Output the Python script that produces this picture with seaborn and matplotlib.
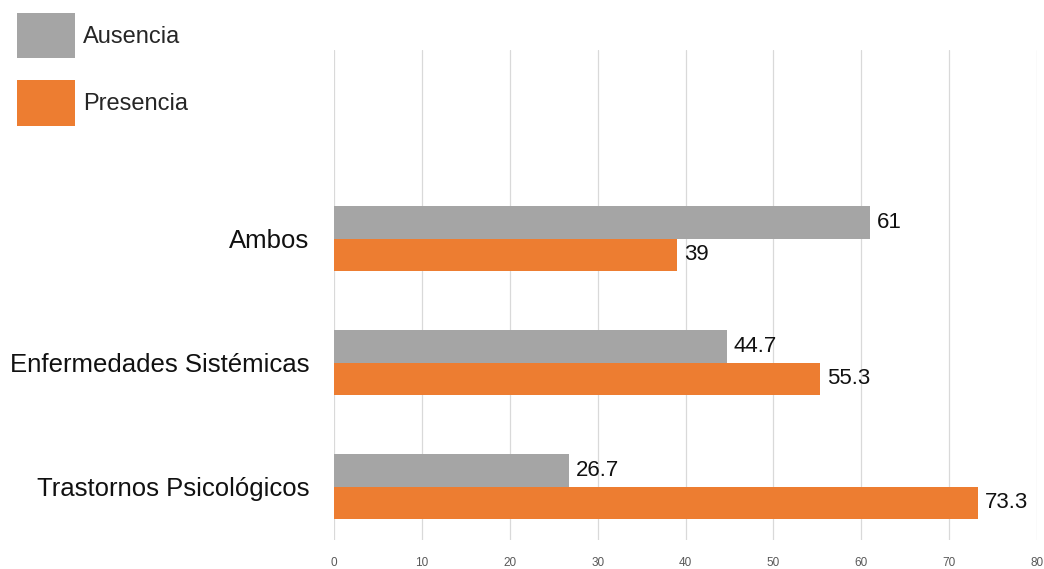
import matplotlib
matplotlib.use("Agg")
import matplotlib.pyplot as plt
import seaborn as sns
import pandas as pd

categories = ["Ambos", "Enfermedades Sistémicas", "Trastornos Psicológicos"]
ausencia = [61, 44.7, 26.7]
presencia = [39, 55.3, 73.3]
series = ["Ausencia", "Presencia"]
colors = ["#A5A5A5", "#ED7D31"]
xticks = [0, 10, 20, 30, 40, 50, 60, 70, 80]

df = pd.DataFrame({
    "cat": categories * 2,
    "val": ausencia + presencia,
    "serie": [series[0]] * 3 + [series[1]] * 3,
})

sns.set_theme(style="white")
plt.rcParams["font.family"] = ["Liberation Sans", "DejaVu Sans"]

fig = plt.figure(figsize=(10.44, 5.69), dpi=100)
ax = fig.add_axes([0.32, 0.051, 0.6733, 0.861])

sns.barplot(data=df, y="cat", x="val", hue="serie", orient="h",
            palette=colors, width=0.52, ax=ax, saturation=1, errorbar=None,
            linewidth=0)

for c in ax.containers:
    ax.bar_label(c, labels=[f"{v:g}" for v in c.datavalues], padding=5,
                 fontsize=16, color="#111111")

ax.set_xlim(0, 80)
ax.set_ylim(2.43, -1.52)
ax.set_xticks(xticks)
ax.set_xticklabels([str(t) for t in xticks], fontsize=8.5, color="#595959")
ax.tick_params(axis="x", length=0, pad=12)
ax.tick_params(axis="y", length=0, pad=18, labelsize=18.5, labelcolor="#111111")
ax.set_xlabel("")
ax.set_ylabel("")
ax.xaxis.grid(True, color="#D9D9D9", linewidth=0.9)
ax.set_axisbelow(True)
for s in ax.spines.values():
    s.set_visible(False)

handles, labels = ax.get_legend_handles_labels()
if ax.legend_:
    ax.legend_.remove()
fig.legend(handles, labels, loc="upper left", bbox_to_anchor=(0.0057, 0.9965),
           frameon=False, fontsize=17, handlelength=2.46, handleheight=2.6,
           labelspacing=0.92, handletextpad=0.35, borderpad=0.25,
           borderaxespad=0.2)

fig.savefig("out.png", dpi=100)
